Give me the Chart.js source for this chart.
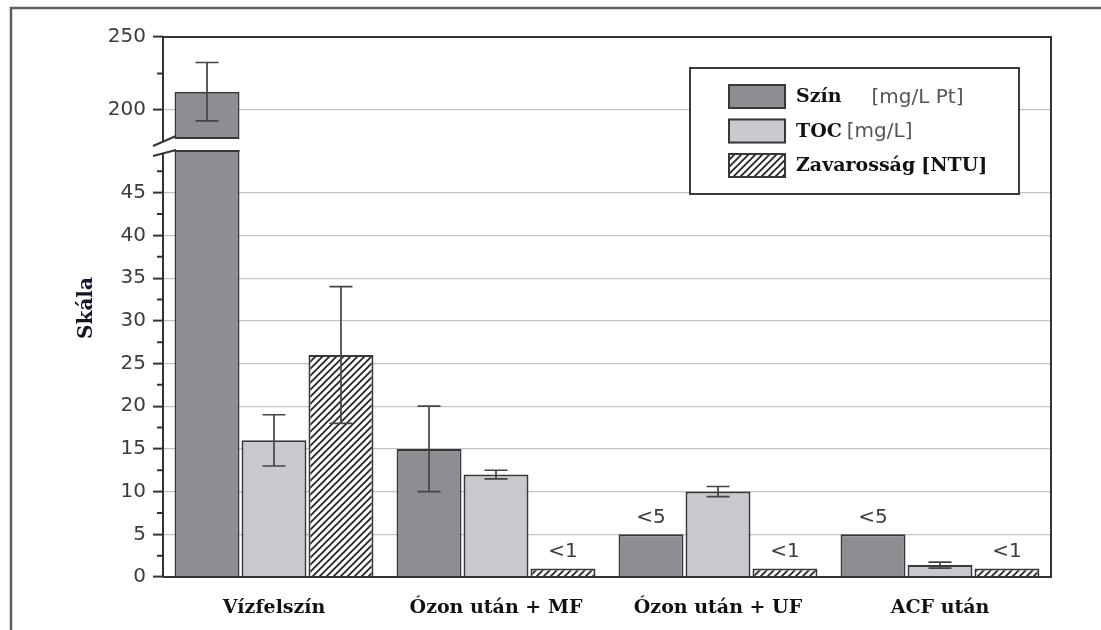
<!DOCTYPE html>
<html>
<head>
<meta charset="utf-8">
<script src="https://cdn.jsdelivr.net/npm/chart.js@4.4.1/dist/chart.umd.min.js"></script>
<style>
  html, body { margin: 0; padding: 0; background: #fff; }
  canvas { display: block; }
</style>
</head>
<body>
<canvas id="c" width="1101" height="630"></canvas>
<script>
// ---- data ----
const categories = ['Vízfelszín', 'Ózon után + MF', 'Ózon után + UF', 'ACF után'];
const seriesNames = ['Szín', 'TOC', 'Zavarosság'];
const seriesUnits = ['[mg/L Pt]', '[mg/L]', '[NTU]'];

const szin = [212.5, 15, 5, 5];
const szinErr = [20, 5, 0, 0];
const toc = [16, 12, 10, 1.4];
const tocErr = [3, 0.5, 0.6, 0.35];
const zavarossag = [26, 1, 1, 1];
const zavarossagErr = [8, 0, 0, 0];

const szinNotes = ['', '', '<5', '<5'];
const tocNotes = ['', '', '', ''];
const zavarossagNotes = ['', '<1', '<1', '<1'];

// broken value axis: lower and upper segments
const lowRange = [0, 50];
const highRange = [172.5, 250];
const highBase = 180;
const lowTicks = [0, 5, 10, 15, 20, 25, 30, 35, 40, 45];
const lowMinorTicks = [2.5, 7.5, 12.5, 17.5, 22.5, 27.5, 32.5, 37.5, 42.5, 47.5];
const highTicks = [200, 250];
const highMinorTicks = [225];

const axisTitle = 'Skála';

// ---- styles ----
const canvas = document.getElementById('c');
const ctx2d = canvas.getContext('2d');

function makeHatch() {
  const n = 7;
  const t = document.createElement('canvas');
  t.width = n; t.height = n;
  const g = t.getContext('2d');
  g.fillStyle = '#ffffff';
  g.fillRect(0, 0, n, n);
  g.strokeStyle = '#2a2a2a';
  g.lineWidth = 1.9;
  g.beginPath();
  g.moveTo(-1, n + 1); g.lineTo(n + 1, -1);
  g.moveTo(-1, 1); g.lineTo(1, -1);
  g.moveTo(n - 1, n + 1); g.lineTo(n + 1, n - 1);
  g.stroke();
  return ctx2d.createPattern(t, 'repeat');
}

const fills = ['#8d8e93', '#c8c9cc', makeHatch()];
const edge = '#383838';
const serif = "'DejaVu Serif', 'Liberation Serif', serif";
const sans = "'DejaVu Sans', 'Liberation Sans', sans-serif";

const series = [
  { name: seriesNames[0], unit: seriesUnits[0], values: szin, errors: szinErr, notes: szinNotes },
  { name: seriesNames[1], unit: seriesUnits[1], values: toc, errors: tocErr, notes: tocNotes },
  { name: seriesNames[2], unit: seriesUnits[2], values: zavarossag, errors: zavarossagErr, notes: zavarossagNotes }
];

const lowSets = series.map((s, i) => ({
  label: s.name,
  data: s.values,
  errors: s.errors,
  notes: s.notes,
  yAxisID: 'yLow',
  stack: 's' + i,
  backgroundColor: fills[i],
  borderColor: edge,
  borderWidth: 2,
  borderSkipped: 'start'
}));

const highSets = series.map((s, i) => ({
  label: s.name,
  data: s.values.map(v => (v >= highBase ? v : null)),
  errors: s.errors,
  notes: [],
  yAxisID: 'yHigh',
  stack: 's' + i,
  base: highBase,
  backgroundColor: fills[i],
  borderColor: edge,
  borderWidth: 2,
  borderSkipped: false
}));

// ---- plugins ----
const pageFrame = {
  id: 'pageFrame',
  beforeDraw(chart) {
    const c = chart.ctx;
    c.save();
    c.fillStyle = '#fff';
    c.fillRect(0, 0, chart.width, chart.height);
    c.strokeStyle = '#5e5e5e';
    c.lineWidth = 2.5;
    c.strokeRect(11, 8, chart.width + 40, chart.height + 40);
    c.restore();
  }
};

// each dataset is clipped to the band of its own value axis
const bandClip = {
  id: 'bandClip',
  beforeDatasetDraw(chart, args) {
    const s = chart.scales[args.meta.yAxisID];
    const ca = chart.chartArea;
    const c = chart.ctx;
    c.save();
    c.beginPath();
    c.rect(ca.left, s.top, ca.right - ca.left, s.bottom - s.top + 2);
    c.clip();
  },
  afterDatasetDraw(chart) {
    chart.ctx.restore();
  }
};

const errorBars = {
  id: 'errorBars',
  afterDatasetsDraw(chart) {
    const c = chart.ctx;
    c.save();
    c.strokeStyle = '#444';
    c.lineWidth = 1.7;
    chart.data.datasets.forEach((ds, di) => {
      const meta = chart.getDatasetMeta(di);
      const ys = chart.scales[meta.yAxisID];
      meta.data.forEach((bar, i) => {
        const v = ds.data[i];
        const e = ds.errors ? ds.errors[i] : 0;
        if (v == null || !e || v > ys.max || v < ys.min) return;
        const x = bar.x;
        const yT = ys.getPixelForValue(v + e);
        const yB = ys.getPixelForValue(v - e);
        const hw = 11.5;
        c.beginPath();
        c.moveTo(x, yT); c.lineTo(x, yB);
        c.moveTo(x - hw, yT); c.lineTo(x + hw, yT);
        c.moveTo(x - hw, yB); c.lineTo(x + hw, yB);
        c.stroke();
      });
    });
    c.restore();
  }
};

const barNotes = {
  id: 'barNotes',
  afterDatasetsDraw(chart) {
    const c = chart.ctx;
    c.save();
    c.font = '20px ' + sans;
    c.fillStyle = '#3c3c3c';
    c.textAlign = 'center';
    c.textBaseline = 'alphabetic';
    chart.data.datasets.forEach((ds, di) => {
      if (!ds.notes) return;
      const meta = chart.getDatasetMeta(di);
      meta.data.forEach((bar, i) => {
        const t = ds.notes[i];
        if (!t) return;
        c.fillText(t, bar.x, bar.y - 11);
      });
    });
    c.restore();
  }
};

const brokenAxis = {
  id: 'brokenAxis',
  afterDraw(chart) {
    const c = chart.ctx;
    const ca = chart.chartArea;
    const lo = chart.scales.yLow;
    const hi = chart.scales.yHigh;
    const yb = lo.top;
    c.save();
    c.strokeStyle = '#333';
    c.lineWidth = 2;

    // top edge, right edge and baseline
    c.beginPath();
    c.moveTo(ca.left, ca.top);
    c.lineTo(ca.right, ca.top);
    c.lineTo(ca.right, ca.bottom);
    c.lineTo(ca.left, ca.bottom);
    c.stroke();

    // value axis with a gap at the break
    c.beginPath();
    c.moveTo(ca.left, ca.top);
    c.lineTo(ca.left, yb - 9);
    c.moveTo(ca.left, yb + 3);
    c.lineTo(ca.left, ca.bottom);
    c.stroke();

    // break marks
    c.beginPath();
    c.moveTo(ca.left - 10, yb - 4); c.lineTo(ca.left + 13, yb - 14);
    c.moveTo(ca.left - 10, yb + 6); c.lineTo(ca.left + 13, yb);
    c.stroke();

    // minor tick marks
    c.beginPath();
    lowMinorTicks.forEach(v => {
      const y = lo.getPixelForValue(v);
      c.moveTo(ca.left - 6, y); c.lineTo(ca.left, y);
    });
    highMinorTicks.forEach(v => {
      const y = hi.getPixelForValue(v);
      c.moveTo(ca.left - 6, y); c.lineTo(ca.left, y);
    });
    c.stroke();

    // closing edge on lower-band bars that continue into the upper band
    c.fillStyle = edge;
    chart.data.datasets.forEach((ds, di) => {
      const meta = chart.getDatasetMeta(di);
      if (meta.yAxisID !== 'yLow') return;
      meta.data.forEach((bar, i) => {
        if (ds.data[i] > lo.max) {
          c.fillRect(bar.x - bar.width / 2, yb, bar.width, 2);
        }
      });
    });

    // axis title
    c.fillStyle = '#14142a';
    c.font = 'bold 20px ' + serif;
    c.textAlign = 'center';
    c.textBaseline = 'middle';
    c.translate(87, (ca.top + ca.bottom) / 2 + 1);
    c.rotate(-Math.PI / 2);
    c.fillText(axisTitle, 0, 0);
    c.restore();
  }
};

const boxLegend = {
  id: 'boxLegend',
  afterDraw(chart, args, opts) {
    const c = chart.ctx;
    c.save();
    c.fillStyle = '#fff';
    c.fillRect(opts.x, opts.y, opts.w, opts.h);
    c.strokeStyle = '#3a3a3a';
    c.lineWidth = 2;
    c.strokeRect(opts.x, opts.y, opts.w, opts.h);
    series.forEach((s, i) => {
      const top = opts.rowTop + i * opts.rowStep;
      c.fillStyle = fills[i];
      c.fillRect(opts.swatchX, top, opts.swatchW, opts.swatchH);
      c.strokeStyle = edge;
      c.lineWidth = 2;
      c.strokeRect(opts.swatchX + 1, top + 1, opts.swatchW - 2, opts.swatchH - 2);
      const cy = top + opts.swatchH / 2 + 1;
      c.textBaseline = 'middle';
      c.textAlign = 'left';
      c.font = 'bold 19px ' + serif;
      c.fillStyle = '#111';
      c.fillText(s.name, opts.textX, cy);
      const nameW = c.measureText(s.name).width;
      c.font = opts.unitFonts[i];
      c.fillStyle = opts.unitColors[i];
      c.fillText(s.unit, opts.textX + nameW + opts.unitGaps[i], cy);
    });
    c.restore();
  }
};

// ---- chart ----
new Chart(canvas, {
  type: 'bar',
  data: {
    labels: categories,
    datasets: [...lowSets, ...highSets]
  },
  plugins: [pageFrame, bandClip, errorBars, barNotes, brokenAxis, boxLegend],
  options: {
    responsive: false,
    animation: false,
    devicePixelRatio: 1,
    layout: { padding: { top: 37, right: 50, left: 0, bottom: 0 } },
    datasets: { bar: { categoryPercentage: 0.905, barPercentage: 0.97 } },
    plugins: {
      legend: { display: false },
      tooltip: { enabled: false },
      boxLegend: {
        x: 690, y: 68, w: 329, h: 126,
        swatchX: 728, swatchW: 58, swatchH: 25,
        rowTop: 84, rowStep: 34.5,
        textX: 796,
        unitGaps: [30, 5, 6],
        unitFonts: ['20px ' + sans, '20px ' + sans, 'bold 19px ' + serif],
        unitColors: ['#555', '#555', '#111']
      }
    },
    scales: {
      x: {
        grid: { display: false },
        border: { display: false },
        ticks: {
          font: { family: serif, size: 19, weight: 'bold' },
          color: '#111',
          padding: 12,
          maxRotation: 0,
          autoSkip: false
        },
        afterFit: s => { s.height = 53; }
      },
      yLow: {
        type: 'linear',
        position: 'left',
        stack: 'valueAxis',
        stackWeight: 427,
        stacked: false,
        min: lowRange[0],
        max: lowRange[1],
        afterBuildTicks: s => { s.ticks = lowTicks.map(v => ({ value: v })); },
        afterFit: s => { s.width = 163; },
        ticks: { font: { family: sans, size: 20 }, color: '#3c3c3c', padding: 7, autoSkip: false },
        grid: {
          color: c => (c.tick && c.tick.value === 0 ? 'rgba(0,0,0,0)' : '#c2c2c2'),
          lineWidth: 1.2,
          tickLength: 10,
          tickColor: '#333',
          tickWidth: 2
        },
        border: { display: false }
      },
      yHigh: {
        type: 'linear',
        position: 'left',
        stack: 'valueAxis',
        stackWeight: 113,
        stacked: false,
        min: highRange[0],
        max: highRange[1],
        afterBuildTicks: s => { s.ticks = highTicks.map(v => ({ value: v })); },
        afterFit: s => { s.width = 163; },
        ticks: { font: { family: sans, size: 20 }, color: '#3c3c3c', padding: 7, autoSkip: false },
        grid: {
          color: c => (c.tick && c.tick.value === 250 ? 'rgba(0,0,0,0)' : '#c2c2c2'),
          lineWidth: 1.2,
          tickLength: 10,
          tickColor: '#333',
          tickWidth: 2
        },
        border: { display: false }
      }
    }
  }
});
</script>
</body>
</html>
